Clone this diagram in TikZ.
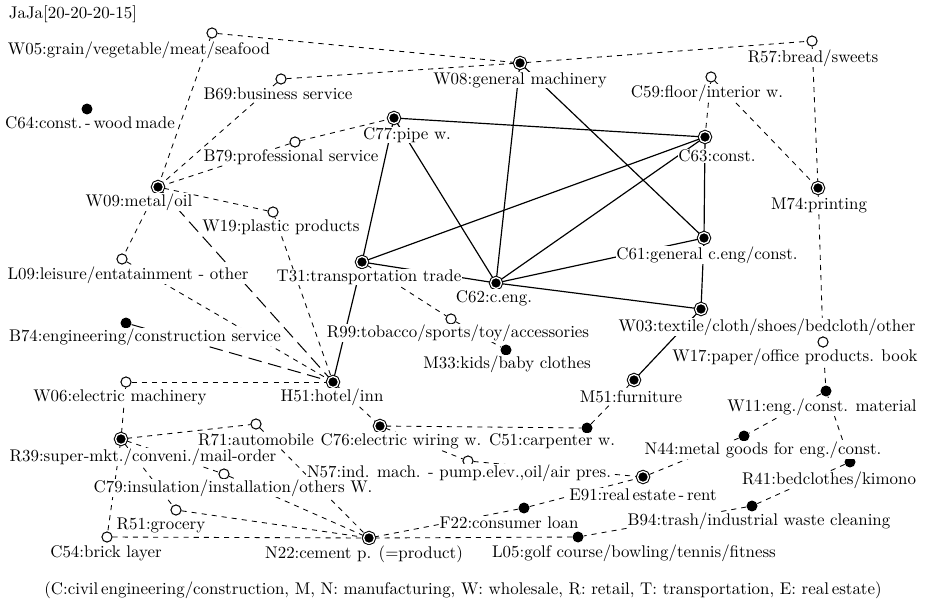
\documentclass[tikz,border=0pt]{standalone}
\usetikzlibrary{backgrounds}

\tikzset{
  sopen/.style={circle, draw, fill=white, line width=0.6pt, minimum size=6pt, inner sep=0pt},
  sdot/.style={circle, fill=black, minimum size=6.5pt, inner sep=0pt},
  score/.style={circle, draw, fill=black, double=white, double distance=0.8pt, line width=0.6pt, minimum size=6.5pt, inner sep=0pt},
  lbl/.style={fill=white, inner sep=0.5pt},
  strong/.style={line width=0.7pt},
  weak/.style={dashed, line width=0.5pt},
  longdash/.style={dash pattern=on 8pt off 4pt, line width=0.6pt}
}

\begin{document}
\begin{tikzpicture}[x=0.0208cm, y=-0.0208cm]
\useasboundingbox (0,0) rectangle (925,605);

% sectors
\node[sopen] (W05) at (212,33) {};
\node[sopen] (B69) at (281,79) {};
\node[sdot]  (C64) at (87,109) {};
\node[sopen] (B79) at (295,142) {};
\node[score] (W09) at (158,187) {};
\node[sopen] (W19) at (273,212) {};
\node[score] (W08) at (520,63) {};
\node[score] (C77) at (394,118) {};
\node[sopen] (R57) at (812,41) {};
\node[sopen] (C59) at (711,77) {};
\node[score] (C63) at (705,137) {};
\node[score] (M74) at (818,188) {};
\node[sopen] (L09) at (122,259) {};
\node[sdot]  (B74) at (126,323) {};
\node[sopen] (W06) at (126,382) {};
\node[score] (T31) at (362,262) {};
\node[score] (C62) at (496,283) {};
\node[sopen] (R99) at (451,319) {};
\node[sdot]  (M33) at (506,350) {};
\node[score] (H51) at (333,382) {};
\node[score] (C61) at (704,238) {};
\node[score] (W03) at (701,309) {};
\node[sopen] (W17) at (823,342) {};
\node[score] (M51) at (634,380) {};
\node[sdot]  (W11) at (826,391) {};
\node[score] (R39) at (121,439) {};
\node[sopen] (R71) at (256,424) {};
\node[sopen] (C79) at (224,474) {};
\node[sopen] (R51) at (176,510) {};
\node[sopen] (C54) at (107,537) {};
\node[score] (C76) at (380,426) {};
\node[sdot]  (C51) at (587,428) {};
\node[sopen] (N57) at (468,461) {};
\node[sdot]  (F22) at (524,508) {};
\node[score] (N22) at (369,538) {};
\node[sdot]  (L05) at (578,537) {};
\node[score] (E91) at (643,477) {};
\node[sdot]  (N44) at (744,436) {};
\node[sdot]  (R41) at (850,462) {};
\node[sdot]  (B94) at (752,506) {};

% links
\begin{scope}[on background layer]
\foreach \a/\b in {W08/C62, W08/C61, C77/C63, C77/T31, C77/C62, T31/C63, C62/C63,
                   C62/C61, C62/W03, T31/C62, C63/C61, C61/W03, W03/M51, T31/H51}
  \draw[strong] (\a) -- (\b);
\foreach \a/\b in {W09/H51, B74/H51}
  \draw[longdash] (\a) -- (\b);
\foreach \a/\b in {W05/W08, W05/W09, B69/W08, W08/R57, B69/W09, B79/W09, B79/C77,
                   W09/W19, W09/L09, L09/H51, W19/H51, W06/H51, H51/C76, T31/R99,
                   R99/M33, C59/C63, C59/M74, R57/M74, M74/W17, W17/W11, W11/N44,
                   W11/R41, N44/E91, R41/B94, B94/L05, L05/N22, F22/E91, F22/N22,
                   N57/E91, C76/N57, C76/C51, C51/M51, W06/R39, R39/R71, R71/N22,
                   R39/C79, R39/R51, R39/C54, C79/N22, R51/N22, C54/N22}
  \draw[weak] (\a) -- (\b);
\end{scope}

% labels
\node[lbl] (title) at (73,14) {JaJa[20-20-20-15]};
\node[lbl] (lW05) at (139,50) {W05:grain/vegetable/meat/seafood};
\node[lbl] (lB69) at (278,94) {B69:business service};
\node[lbl] (lC64) at (90,123) {C64:const.\,-\,wood\,made};
\node[lbl] (lB79) at (291,157) {B79:professional service};
\node[lbl] (lW09) at (139,202) {W09:metal/oil};
\node[lbl] (lW19) at (281,227) {W19:plastic products};
\node[lbl] (lC77) at (407,135) {C77:pipe w.};
\node[lbl] (lW08) at (520,80) {W08:general machinery};
\node[lbl] (lR57) at (813,58) {R57:bread/sweets};
\node[lbl] (lC59) at (707,93) {C59:floor/interior w.};
\node[lbl] (lC63) at (717,156) {C63:const.};
\node[lbl] (lM74) at (819,205) {M74:printing};
\node[lbl] (lL09) at (128,275) {L09:leisure/entatainment - other};
\node[lbl] (lT31) at (369,277) {T31:transportation trade};
\node[lbl] (lC62) at (494,298) {C62:c.eng.};
\node[lbl] (lC61) at (707,255) {C61:general c.eng/const.};
\node[lbl] (lB74) at (145,337) {B74:engineering/construction service};
\node[lbl] (lR99) at (458,333) {R99:tobacco/sports/toy/accessories};
\node[lbl] (lW03) at (767,327) {W03:textile/cloth/shoes/bedcloth/other};
\node[lbl] (lM33) at (507,364) {M33:kids/baby clothes};
\node[lbl] (lW17) at (795,357) {W17:paper/office products. book};
\node[lbl] (lW06) at (120,397) {W06:electric machinery};
\node[lbl] (lH51) at (332,397) {H51:hotel/inn};
\node[lbl] (lM51) at (631,397) {M51:furniture};
\node[lbl] (lW11) at (822,407) {W11:eng./const. material};
\node[lbl] (lR39) at (143,457) {R39:super-mkt./conveni./mail-order};
\node[lbl] (lR71) at (256,440) {R71:automobile};
\node[lbl] (lC76) at (401,441) {C76:electric wiring w.};
\node[lbl] (lC51) at (552,441) {C51:carpenter w.};
\node[lbl] (lN44) at (763,450) {N44:metal goods for eng./const.};
\node[lbl] (lN57) at (459,473) {N57:ind. mach. - pump.elev.,oil/air pres.};
\node[lbl] (lR41) at (829,480) {R41:bedclothes/kimono};
\node[lbl] (lC79) at (233,488) {C79:insulation/installation/others W.};
\node[lbl] (lE91) at (643,495) {E91:real\,estate\,-\,rent};
\node[lbl] (lB94) at (759,521) {B94:trash/industrial waste cleaning};
\node[lbl] (lF22) at (509,523) {F22:consumer loan};
\node[lbl] (lR51) at (161,525) {R51:grocery};
\node[lbl] (lC54) at (106,553) {C54:brick layer};
\node[lbl] (lN22) at (364,554) {N22:cement p. (=product)};
\node[lbl] (lL05) at (634,553) {L05:golf course/bowling/tennis/fitness};
\node[lbl] (caption) at (463,590) {(C:civil\,engineering/construction, M, N: manufacturing, W: wholesale, R: retail, T: transportation, E: real\,estate)};
\end{tikzpicture}
\end{document}
